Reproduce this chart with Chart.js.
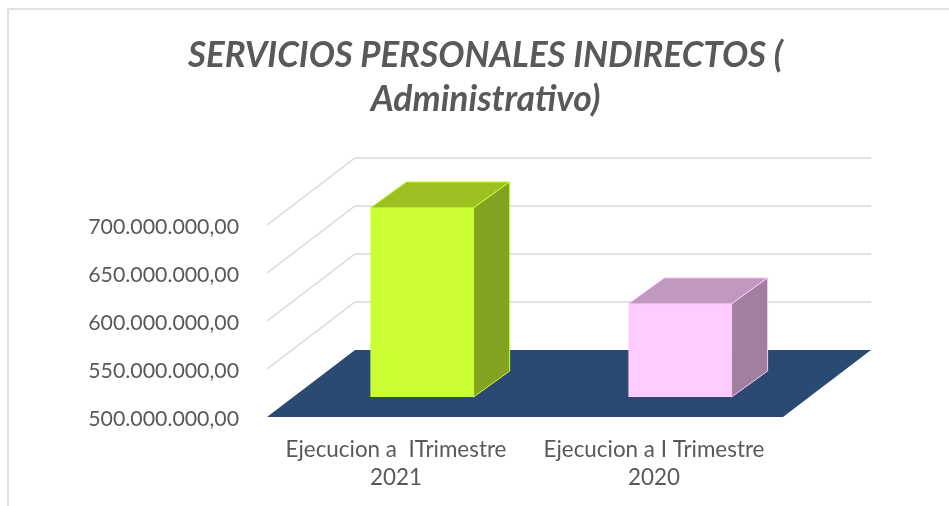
<!DOCTYPE html>
<html>
<head>
<meta charset="utf-8">
<script src="https://cdn.jsdelivr.net/npm/chart.js@4"></script>
<style>
  html, body { margin: 0; padding: 0; background: #fff; }
  canvas { display: block; }
</style>
</head>
<body>
<canvas id="myChart" width="949" height="506"></canvas>
<script>
const categories = [['Ejecucion a  ITrimestre', '2021'], ['Ejecucion a I Trimestre', '2020']]
const values = [697000000, 597000000]
const tickLabels = ['500.000.000,00', '550.000.000,00', '600.000.000,00', '650.000.000,00', '700.000.000,00']
const titleLines = ['SERVICIOS PERSONALES INDIRECTOS (', 'Administrativo)']

const frontColors = ['#CCFF33', '#FFCCFF']
const edgeColors = ['#CCFF33', '#FFC8FF']
const topColors = ['#9CBF22', '#BF99C0']
const sideColors = ['#82A321', '#A07F9F']

// profondeur de la boite 3D, et des barres dedans
const wallDepth = { x: 88, y: -67 }
const barShift = { x: 26, y: -20 }
const barDepth = { x: 36, y: -26 }

const poly = (ctx, pts, fill, stroke) => {
  ctx.beginPath()
  pts.forEach((p, i) => i ? ctx.lineTo(p[0], p[1]) : ctx.moveTo(p[0], p[1]))
  ctx.closePath()
  ctx.fillStyle = fill
  ctx.fill()
  if (stroke) {
    ctx.strokeStyle = stroke
    ctx.lineWidth = 1
    ctx.stroke()
  }
}

const box3d = {
  id: 'box3d',
  afterLayout(chart) {
    // sinon les labels de l'axe y sont coupes a gauche
    chart.scales.y.left = 0
  },
  beforeDraw(chart) {
    const ctx = chart.ctx
    // cadre du graphique
    ctx.save()
    ctx.strokeStyle = '#D9D9D9'
    ctx.lineWidth = 1.5
    ctx.beginPath()
    ctx.moveTo(8, 506)
    ctx.lineTo(8, 9)
    ctx.lineTo(949, 9)
    ctx.stroke()
    ctx.restore()
  },
  beforeDatasetsDraw(chart) {
    const { ctx, chartArea: a, scales: { y } } = chart
    const d = wallDepth
    ctx.save()
    ctx.strokeStyle = '#D9D9D9'
    ctx.lineWidth = 1.5
    y.ticks.forEach(t => {
      if (t.value === y.min) return
      const py = y.getPixelForValue(t.value)
      ctx.beginPath()
      ctx.moveTo(a.left, py)
      ctx.lineTo(a.left + d.x, py + d.y)
      ctx.lineTo(a.right + d.x, py + d.y)
      ctx.stroke()
    })
    poly(ctx, [
      [a.left, a.bottom],
      [a.left + d.x, a.bottom + d.y],
      [a.right + d.x, a.bottom + d.y],
      [a.right, a.bottom]
    ], '#2A4A72')
    ctx.translate(barShift.x, barShift.y)
  },
  afterDatasetsDraw(chart) {
    const ctx = chart.ctx
    const d = barDepth
    chart.getDatasetMeta(0).data.forEach((bar, i) => {
      const l = bar.x - bar.width / 2
      const r = bar.x + bar.width / 2
      poly(ctx, [[l, bar.y], [l + d.x, bar.y + d.y], [r + d.x, bar.y + d.y], [r, bar.y]], topColors[i], edgeColors[i])
      poly(ctx, [[r, bar.y], [r + d.x, bar.y + d.y], [r + d.x, bar.base + d.y], [r, bar.base]], sideColors[i], edgeColors[i])
    })
    ctx.restore()
  }
}

new Chart(document.getElementById('myChart'), {
  type: 'bar',
  data: {
    labels: categories,
    datasets: [{
      data: values,
      base: 500000000,
      backgroundColor: frontColors,
      borderWidth: 0,
      barPercentage: 0.4,
      categoryPercentage: 1,
      clip: false
    }]
  },
  options: {
    responsive: false,
    animation: false,
    layout: { padding: { left: 188, right: 166, top: 0, bottom: 0 } },
    plugins: {
      legend: { display: false },
      tooltip: { enabled: false },
      title: {
        display: true,
        text: titleLines,
        color: '#595959',
        font: { family: 'Lato', size: 35.5, weight: 'bold', style: 'italic', lineHeight: 44 / 35.5 },
        padding: { top: 34, bottom: 103 }
      }
    },
    scales: {
      x: {
        grid: { display: false },
        border: { display: false },
        afterFit: s => { s.height = 89 },
        ticks: {
          color: '#595959',
          padding: 11,
          maxRotation: 0,
          font: { family: 'Lato', size: 22.4, lineHeight: 28 / 22.4 }
        }
      },
      y: {
        min: 500000000,
        max: 700000000,
        grid: { display: false, drawTicks: false },
        border: { display: false },
        afterFit: s => { s.width = 79 },
        ticks: {
          stepSize: 50000000,
          color: '#595959',
          padding: 28,
          labelOffset: 2,
          font: { family: 'Lato', size: 21.3 },
          callback: (v, i) => tickLabels[i]
        }
      }
    }
  },
  plugins: [box3d]
})
</script>
</body>
</html>
